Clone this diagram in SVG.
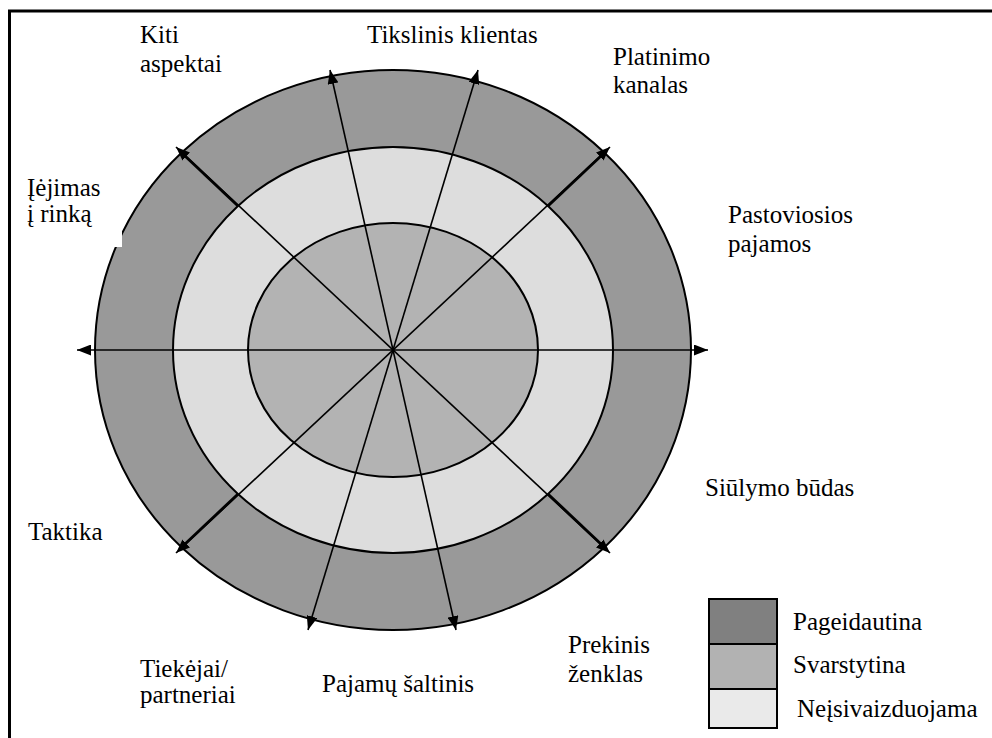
<svg xmlns="http://www.w3.org/2000/svg" width="992" height="738" viewBox="0 0 992 738">
<style>
.lbl{font-family:"Liberation Serif","Tinos","Times New Roman","DejaVu Serif",serif;font-size:25px;fill:#000}
.ring{stroke:#000;stroke-width:2}
.spoke{stroke:#000;stroke-width:1.6;fill:none}
.thick{stroke:#000;stroke-width:2.8;fill:none}
.lg{stroke:#000;stroke-width:2}
</style>
<defs>
<marker id="arr" viewBox="0 0 14 11" refX="14" refY="5.5" markerWidth="14" markerHeight="11" markerUnits="userSpaceOnUse" orient="auto-start-reverse">
<path d="M0,0 L14,5.5 L0,11 Z" fill="#000"/>
</marker>
</defs>
<rect x="0" y="0" width="992" height="738" fill="#fff"/>
<g id="frame">
<line x1="9.5" y1="11" x2="9.5" y2="738" stroke="#000" stroke-width="3"/>
<line x1="8" y1="11" x2="992" y2="11" stroke="#000" stroke-width="3"/>
</g>
<g id="rings">
<ellipse class="ring" cx="393" cy="350" rx="298" ry="280" fill="#999999"/>
<ellipse class="ring" cx="393" cy="350" rx="220" ry="203" fill="#dddddd"/>
<ellipse class="ring" cx="393" cy="350" rx="145" ry="127" fill="#b3b3b3"/>
</g>
<g id="masks">
<rect x="20" y="160" width="102" height="87" fill="#fff"/>
</g>
<g id="connectors">
<line class="spoke" x1="77" y1="350" x2="708" y2="350" marker-start="url(#arr)" marker-end="url(#arr)"/>
<line class="spoke" x1="176" y1="147" x2="610" y2="553" marker-start="url(#arr)" marker-end="url(#arr)"/>
<line class="spoke" x1="610" y1="147" x2="176" y2="553" marker-start="url(#arr)" marker-end="url(#arr)"/>
<line class="spoke" x1="330" y1="70" x2="456" y2="630" marker-start="url(#arr)" marker-end="url(#arr)"/>
<line class="spoke" x1="478" y1="70" x2="308" y2="630" marker-start="url(#arr)" marker-end="url(#arr)"/>
<line class="thick" x1="238" y1="206" x2="184" y2="155"/>
<line class="thick" x1="548" y1="206" x2="602" y2="155"/>
<line class="thick" x1="238" y1="494" x2="184" y2="545"/>
<line class="thick" x1="548" y1="494" x2="602" y2="545"/>
</g>
<g id="kiti"><text class="lbl" x="140" y="43">Kiti</text><text class="lbl" x="140" y="72">aspektai</text></g>
<g id="tikslinis"><text class="lbl" x="367" y="43">Tikslinis klientas</text></g>
<g id="platinimo"><text class="lbl" x="613" y="65">Platinimo</text><text class="lbl" x="613" y="93">kanalas</text></g>
<g id="pastoviosios"><text class="lbl" x="728" y="223">Pastoviosios</text><text class="lbl" x="728" y="252">pajamos</text></g>
<g id="iejimas"><text class="lbl" x="27" y="196">Įėjimas</text><text class="lbl" x="27" y="222">į rinką</text></g>
<g id="taktika"><text class="lbl" x="28" y="540">Taktika</text></g>
<g id="tiekejai"><text class="lbl" x="140" y="677">Tiekėjai/</text><text class="lbl" x="140" y="703">partneriai</text></g>
<g id="pajamu"><text class="lbl" x="322" y="692">Pajamų šaltinis</text></g>
<g id="prekinis"><text class="lbl" x="568" y="653">Prekinis</text><text class="lbl" x="568" y="682">ženklas</text></g>
<g id="siulymo"><text class="lbl" x="705" y="496">Siūlymo būdas</text></g>
<g id="legend">
<rect class="lg" x="709" y="599" width="68" height="45" fill="#808080"/>
<rect class="lg" x="709" y="644" width="68" height="45" fill="#b2b2b2"/>
<rect class="lg" x="709" y="689" width="68" height="39" fill="#eaeaea"/>
<text class="lbl" x="793" y="630">Pageidautina</text>
<text class="lbl" x="793" y="673">Svarstytina</text>
<text class="lbl" x="797" y="717">Neįsivaizduojama</text>
</g>
</svg>
